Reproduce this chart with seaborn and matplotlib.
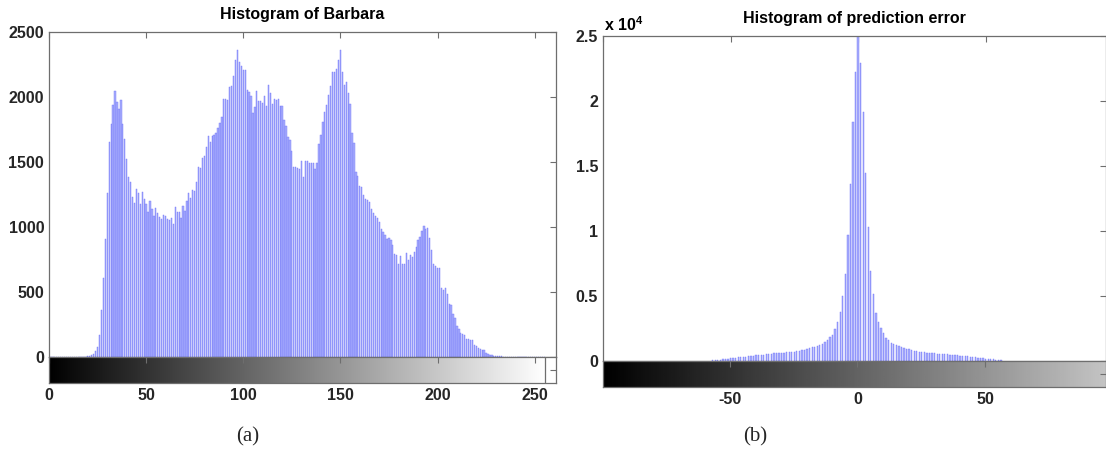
import numpy as np
import pandas as pd
import matplotlib
matplotlib.use("Agg")
import matplotlib.pyplot as plt
import seaborn as sns

# ---------------- data ----------------
gray_levels = list(range(256))
barbara_counts = (
    [0] * 20 +
    [4, 8, 15, 25, 45, 77, 167, 360, 609, 910,            # 20-29
     1259, 1652, 1793, 1937, 2050, 1960, 1906, 1978, 1793, 1675,   # 30-39
     1526, 1387, 1349, 1233, 1182, 1292, 1259, 1177, 1267, 1213,   # 40-49
     1177, 1118, 1200, 1138, 1087, 1143, 1110, 1079, 1058, 1092,   # 50-59
     1084, 1064, 1053, 1066, 1022, 1156, 1112, 1112, 1071, 1164,   # 60-69
     1125, 1197, 1259, 1220, 1285, 1277, 1349, 1464, 1457, 1529,   # 70-79
     1547, 1618, 1700, 1657, 1700, 1708, 1726, 1762, 1803, 1850,   # 80-89
     1983, 1983, 1978, 2076, 2086, 2163, 2286, 2358, 2273, 2235,   # 90-99
     2209, 2204, 2055, 2035, 2004, 1880, 1922, 2045, 1973, 1970,   # 100-109
     1957, 2009, 1932, 2091, 2030, 1945, 1983, 1978, 1983, 1932,   # 110-119
     1927, 1824, 1778, 1696, 1670, 1588, 1464, 1464, 1457, 1444,   # 120-129
     1508, 1387, 1508, 1508, 1490, 1490, 1495, 1444, 1490, 1639,   # 130-139
     1711, 1811, 1888, 1940, 2017, 2086, 2191, 2191, 2214, 2286,   # 140-149
     2363, 2196, 2094, 2112, 2030, 1947, 1726, 1649, 1426, 1395,   # 150-159
     1318, 1310, 1246, 1213, 1207, 1195, 1136, 1105, 1084, 1066,   # 160-169
     1040, 981, 958, 938, 907, 917, 899, 861, 796, 784,            # 170-179
     719, 776, 719, 719, 801, 745, 784, 771, 809, 843,             # 180-189
     899, 925, 969, 1010, 981, 994, 912, 822, 719, 699,            # 190-199
     681, 681, 527, 514, 527, 488, 411, 403, 334, 303,             # 200-209
     236, 218, 185, 180, 167, 141, 141, 134, 128, 95,              # 210-219
     82, 72, 64, 51, 51, 33, 26, 18, 14, 10,                       # 220-229
     8, 6, 5, 4, 3, 2] +                                           # 230-235
    [0] * 20
)

error_values = list(range(-57, 57))
error_counts = [
    60, 70, 90, 100, 120, 150, 170,                               # -57..-51
    200, 220, 250, 270, 290, 310, 330, 360, 390, 410,             # -50..-41
    430, 460, 480, 500, 520, 540, 560, 580, 600, 610,             # -40..-31
    625, 640, 660, 680, 700, 720, 750, 790, 830, 870,             # -30..-21
    930, 990, 1050, 1100, 1180, 1240, 1320, 1480, 1640, 1820,     # -20..-11
    2000, 2500, 3030, 3760, 5000, 6670, 9700, 13600, 18360, 22260,  # -10..-1
    25000,                                                        # 0
    22950, 19180, 14490, 10280, 6950, 5130, 3670, 3030, 2510, 2130,  # 1..10
    1800, 1620, 1420, 1300, 1220, 1130, 1050, 1000, 950, 900,     # 11..20
    850, 800, 760, 730, 700, 670, 650, 630, 610, 590,             # 21..30
    570, 550, 540, 520, 510, 500, 490, 470, 450, 420,             # 31..40
    400, 380, 350, 320, 300, 280, 260, 240, 210, 180,             # 41..50
    160, 140, 120, 100, 80, 60,                                   # 51..56
]

left_yticks = [0, 500, 1000, 1500, 2000, 2500]
left_xticks = [0, 50, 100, 150, 200, 250]
right_yticks = [0, 5000, 10000, 15000, 20000, 25000]
right_ytick_labels = ["0", "0.5", "1", "1.5", "2", "2.5"]
right_xticks = [-50, 0, 50]

df_a = pd.DataFrame({"level": gray_levels, "count": barbara_counts})
df_b = pd.DataFrame({"err": error_values, "count": error_counts})

# ---------------- style ----------------
sns.set_style("white")
plt.rcParams["font.family"] = ["Liberation Sans", "DejaVu Sans"]
plt.rcParams["mathtext.default"] = "regular"
plt.rcParams["axes.unicode_minus"] = False

W, H = 1106, 451
fig = plt.figure(figsize=(W / 100, H / 100), dpi=100)

def frac(x0, x1, y0, y1):
    return [x0 / W, 1 - y1 / H, (x1 - x0) / W, (y1 - y0) / H]

BAR_FACE = "#a9aefd"
BAR_EDGE = "#6f74f8"
SPINE = "#6e6e6e"
TXT = dict(fontsize=11.5, fontweight="bold", color="black")

def style_axes(ax):
    for s in ax.spines.values():
        s.set_color(SPINE)
        s.set_linewidth(0.9)
    ax.tick_params(direction="in", length=4, width=0.8, color=SPINE,
                   top=True, right=True, labelsize=11.5)
    for lab in ax.get_xticklabels() + ax.get_yticklabels():
        lab.set_fontweight("bold")

# ---------------- panel (a) ----------------
ax1 = fig.add_axes(frac(49, 556, 32, 357))
sns.histplot(data=df_a, x="level", weights="count", discrete=True, shrink=0.65,
             color=BAR_FACE, edgecolor=BAR_EDGE, linewidth=0.3, alpha=1,
             ax=ax1)
ax1.set_xlim(0, 261)
ax1.set_ylim(0, 2500)
ax1.set_yticks(left_yticks)
ax1.set_xticks(left_xticks)
ax1.set_xticklabels([])
ax1.set_xlabel("")
ax1.set_ylabel("")
style_axes(ax1)
ax1.tick_params(axis="x", labelbottom=False)
ax1.set_title("Histogram of Barbara", pad=9.4, **TXT)

cb1 = fig.add_axes(frac(49, 556, 357, 383))
grad = np.linspace(0, 1, 256)[None, :]
cb1.imshow(grad, cmap="gray", vmin=0, vmax=1, aspect="auto",
           extent=[-0.5, 255.5, 0, 1])
cb1.axvline(255.5, color=SPINE, lw=0.9)
cb1.set_xlim(0, 261)
cb1.set_ylim(0, 1)
cb1.set_xticks(left_xticks)
cb1.set_yticks([0.5])
cb1.set_yticklabels([])
style_axes(cb1)
cb1.tick_params(axis="y", left=False, right=True)
for lab in cb1.get_xticklabels():
    lab.set_fontweight("bold")

# ---------------- panel (b) ----------------
ax2 = fig.add_axes(frac(603, 1105.5, 36, 361))
sns.histplot(data=df_b, x="err", weights="count", discrete=True, shrink=0.5,
             color=BAR_FACE, edgecolor=BAR_EDGE, linewidth=0.3, alpha=1,
             ax=ax2)
ax2.set_xlim(-99.5, 97)
ax2.set_ylim(0, 25000)
ax2.set_yticks(right_yticks)
ax2.set_yticklabels(right_ytick_labels)
ax2.set_xticks([-100, -50, 0, 50])
ax2.set_xlabel("")
ax2.set_ylabel("")
style_axes(ax2)
ax2.tick_params(axis="x", labelbottom=False)
ax2.set_title("Histogram of prediction error", pad=9.4, **TXT)
ax2.text(0.002, 1.005, r"x 10$^{4}$", transform=ax2.transAxes,
         ha="left", va="bottom", **TXT)

cb2 = fig.add_axes(frac(603, 1105.5, 361, 387))
grad2 = np.linspace(0, 0.765, 256)[None, :]
cb2.imshow(grad2, cmap="gray", vmin=0, vmax=1, aspect="auto",
           extent=[-99.5, 97, 0, 1])
cb2.set_xlim(-99.5, 97)
cb2.set_ylim(0, 1)
cb2.set_xticks(right_xticks)
cb2.set_yticks([0.5])
cb2.set_yticklabels([])
style_axes(cb2)
cb2.tick_params(axis="y", left=False, right=True)
for lab in cb2.get_xticklabels():
    lab.set_fontweight("bold")

fig.text(248 / W, 1 - 437 / H, "(a)", ha="center", va="center",
         fontsize=15, family=["Liberation Serif", "DejaVu Serif"])
fig.text(755 / W, 1 - 437 / H, "(b)", ha="center", va="center",
         fontsize=15, family=["Liberation Serif", "DejaVu Serif"])

fig.savefig("out.png", dpi=100)
